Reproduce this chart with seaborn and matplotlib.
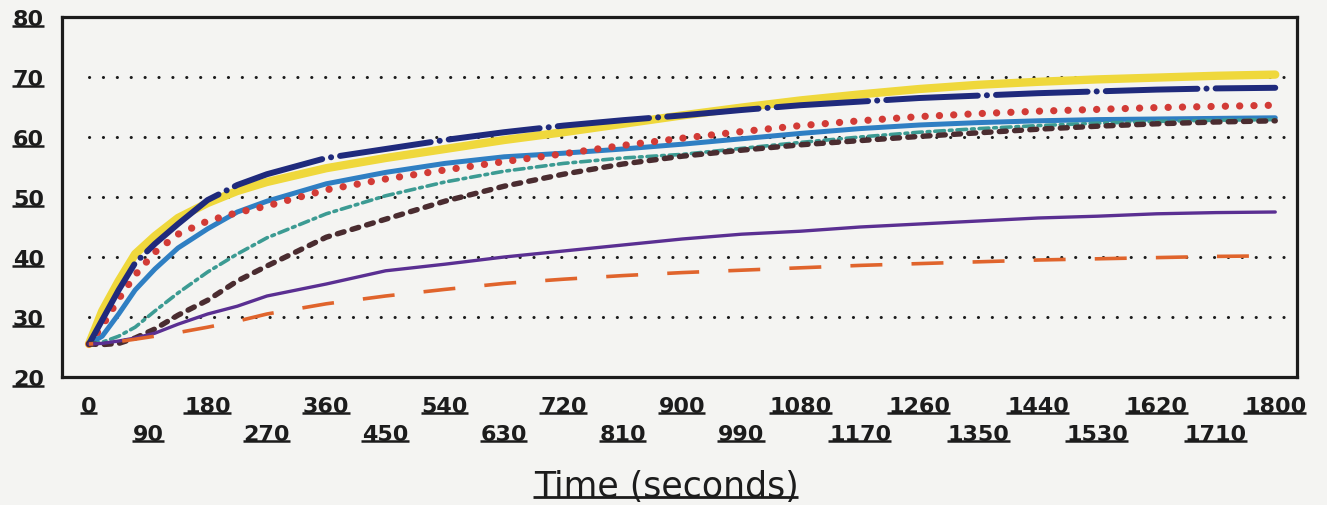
import matplotlib
matplotlib.use("Agg")
import matplotlib.pyplot as plt
import seaborn as sns
import pandas as pd
from matplotlib.lines import Line2D

# Sample times (s) and temperature readings for each run
time_s = [0, 20, 45, 70, 100, 135, 180, 225, 270, 360, 450, 540, 630, 720,
          810, 900, 990, 1080, 1170, 1260, 1350, 1440, 1530, 1620, 1710, 1800]

run_yellow = [25.5, 31.0, 36.0, 40.5, 43.5, 46.5, 49.0, 51.0, 52.5, 54.8, 56.5, 58.0, 59.5,
              60.8, 62.2, 63.6, 64.9, 66.1, 67.1, 68.0, 68.7, 69.2, 69.6, 69.9, 70.2, 70.4]
run_navy = [25.5, 29.5, 34.5, 39.0, 42.2, 45.5, 49.5, 52.0, 53.8, 56.5, 58.0, 59.5, 60.8,
            61.9, 62.8, 63.6, 64.5, 65.3, 65.9, 66.5, 66.9, 67.3, 67.6, 67.9, 68.1, 68.2]
run_red = [25.5, 28.5, 33.0, 37.0, 40.8, 43.8, 46.0, 47.4, 48.5, 51.2, 53.0, 54.5, 55.9,
           57.2, 58.6, 59.8, 60.9, 61.9, 62.7, 63.4, 63.9, 64.3, 64.6, 64.9, 65.1, 65.3]
run_blue = [25.5, 26.8, 30.5, 34.5, 38.0, 41.5, 44.7, 47.5, 49.3, 52.2, 54.1, 55.6, 56.7,
            57.3, 58.0, 58.8, 59.7, 60.6, 61.4, 62.0, 62.4, 62.7, 62.9, 63.0, 63.1, 63.2]
run_teal = [25.5, 25.8, 26.8, 28.3, 31.0, 34.0, 37.5, 40.5, 43.2, 47.2, 50.2, 52.5, 54.3,
            55.6, 56.5, 57.1, 58.1, 59.1, 60.0, 60.8, 61.4, 61.9, 62.3, 62.6, 62.8, 62.9]
run_brown = [25.5, 25.4, 25.6, 26.5, 28.0, 30.3, 32.8, 36.0, 38.5, 43.3, 46.3, 49.3, 51.8,
             53.8, 55.5, 56.8, 57.8, 58.7, 59.4, 60.1, 60.7, 61.3, 61.8, 62.2, 62.5, 62.7]
run_purple = [25.5, 25.6, 26.0, 26.5, 27.3, 28.8, 30.5, 31.8, 33.5, 35.5, 37.7, 38.8, 40.0,
              41.0, 42.0, 43.0, 43.8, 44.3, 45.0, 45.5, 46.0, 46.5, 46.8, 47.2, 47.4, 47.5]
run_orange = [25.5, 25.6, 25.9, 26.3, 26.8, 27.4, 28.3, 29.3, 30.5, 32.2, 33.5, 34.6, 35.6,
              36.3, 36.9, 37.4, 37.8, 38.2, 38.6, 38.9, 39.2, 39.5, 39.7, 39.9, 40.1, 40.2]

y_ticks = [20, 30, 40, 50, 60, 70, 80]
x_ticks = list(range(0, 1801, 90))
x_title = "Time (seconds)"

sns.set_style("white")
plt.rcParams["lines.scale_dashes"] = False
plt.rcParams["font.family"] = ["DejaVu Sans"]

BG = "#f4f4f2"
INK = "#1c1c1c"

W, H = 1327, 506
fig = plt.figure(figsize=(W / 100, H / 100), dpi=100, facecolor=BG)
ax = fig.add_axes([62 / W, 1 - 378 / H, (1297 - 62) / W, (378 - 18) / H], facecolor=BG)

df = pd.DataFrame({"t": time_s})

# (values, colour, width in pt, dash pattern in pt or None, capstyle)
styles = [
    (run_yellow, "#efd83c", 6.0, None, "round"),
    (run_blue, "#2f7fc3", 3.6, None, "round"),
    (run_red, "#d23b36", 5.2, (0, (0.1, 10.2)), "round"),
    (run_navy, "#1f2a7c", 4.3, (0, (66, 6.5, 0.1, 6.5)), "round"),
    (run_teal, "#3c9b93", 2.6, (0, (7, 3.5, 2, 3.5)), "round"),
    (run_brown, "#4a2c30", 3.9, (0, (5, 6)), "round"),
    (run_purple, "#5a2f92", 2.4, None, "round"),
    (run_orange, "#e0642c", 2.6, (20, (23, 21)), "butt"),
]

for vals, col, lw, dash, cap in styles:
    d = df.assign(v=vals)
    sns.lineplot(data=d, x="t", y="v", ax=ax, color=col, linewidth=lw)
    ln = ax.get_lines()[-1]
    if dash is not None:
        ln.set_linestyle(dash)
    ln.set_dash_capstyle(cap)
    ln.set_solid_capstyle("round")
    ln.set_solid_joinstyle("round")

ax.set_xlim(-41, 1833)
ax.set_ylim(20, 80)

# horizontal dotted reference lines
for yv in y_ticks[1:-1]:
    ax.axhline(yv, xmin=(0 - -41) / 1874, xmax=1, color=INK, lw=2.2,
               linestyle=(0, (0.1, 9.9)), dash_capstyle="round", zorder=0.5)

for s in ax.spines.values():
    s.set_color(INK)
    s.set_linewidth(2.3)

ax.set_yticks(y_ticks)
ax.set_yticklabels([str(v) for v in y_ticks])
ax.set_yticks(list(range(25, 80, 10)), minor=True)
ax.set_xticks(x_ticks)
ax.set_xticklabels([str(t) if (t // 90) % 2 == 0 else "\n" + str(t) for t in x_ticks])

ax.tick_params(axis="y", which="major", direction="in", length=13, width=2.2,
               pad=13, labelsize=16, colors=INK)
ax.tick_params(axis="y", which="minor", direction="in", length=6.5, width=2.2, colors=INK)
ax.tick_params(axis="x", which="major", direction="in", length=10, width=2.0,
               pad=14, labelsize=16, colors=INK, top=False)
for lbl in ax.get_xticklabels() + ax.get_yticklabels():
    lbl.set_fontweight("bold")
for lbl in ax.get_xticklabels():
    lbl.set_linespacing(1.45)

ax.set_xlabel("")
ax.set_ylabel("")
title = fig.text(666 / W, 1 - 497 / H, x_title, ha="center", va="baseline",
                 fontsize=25, color=INK)

# underline every label
fig.canvas.draw()
renderer = fig.canvas.get_renderer()
inv = fig.transFigure.inverted()


def underline(txt, lw, drop):
    bb = txt.get_window_extent(renderer)
    if bb.width <= 0:
        return
    y = bb.y0 + drop
    (x0, y0), (x1, _) = inv.transform([(bb.x0 - 1, y), (bb.x1, y)])
    fig.add_artist(Line2D([x0, x1], [y0, y0], transform=fig.transFigure,
                          color=INK, lw=lw, solid_capstyle="butt"))


for lbl in ax.get_xticklabels() + ax.get_yticklabels():
    underline(lbl, 1.8, 3)
underline(title, 2.0, 6)

fig.savefig("out.png", dpi=100, facecolor=BG)
